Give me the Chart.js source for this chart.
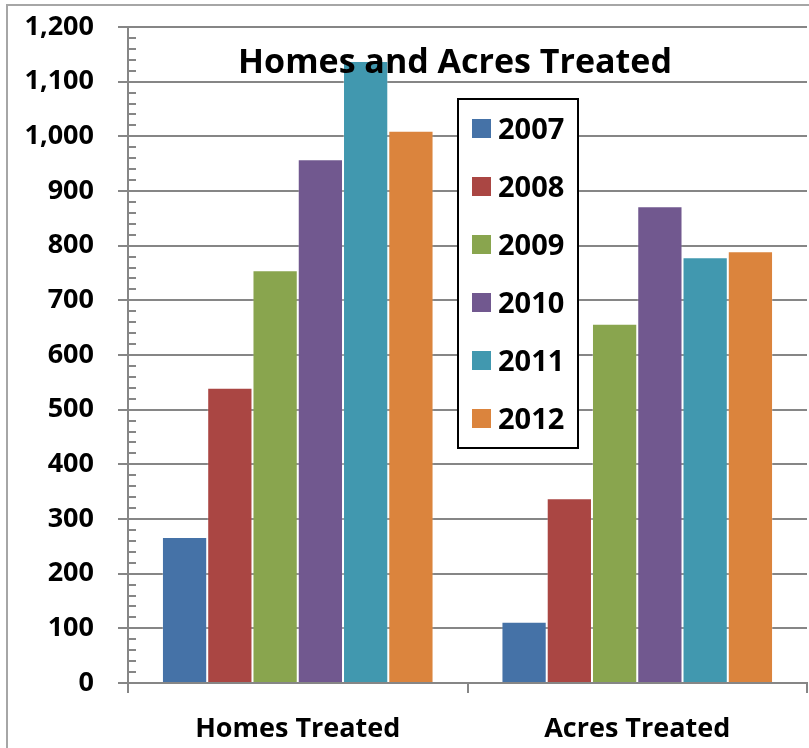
<!DOCTYPE html>
<html>
<head>
<meta charset="utf-8">
<script src="https://cdn.jsdelivr.net/npm/chart.js@4"></script>
<style>
  html, body { margin: 0; padding: 0; background: #fff; }
  #wrap { position: relative; width: 809px; height: 748px; }
</style>
</head>
<body>
<div id="wrap"><canvas id="lienzo" width="809" height="748"></canvas></div>
<script>
// datos del grafico
const categorias = ["Homes Treated", "Acres Treated"];
const anios = ["2007", "2008", "2009", "2010", "2011", "2012"];
const valores2007 = [267, 112];
const valores2008 = [540, 338];
const valores2009 = [755, 657];
const valores2010 = [958, 872];
const valores2011 = [1138, 779];
const valores2012 = [1010, 790];
const colores = ['#4572A7', '#AA4643', '#89A54E', '#71588F', '#4198AF', '#DB843D'];
const titulo = "Homes and Acres Treated";

const series = [valores2007, valores2008, valores2009, valores2010, valores2011, valores2012];
const fuente = "'Open Sans', Lato, sans-serif";
const gris = '#868686';

// marco, marcas menores, titulo y leyenda dibujados a mano
const extras = {
    id: 'extras',
    beforeDraw(chart) {
        const ctx = chart.ctx;
        ctx.save();
        ctx.fillStyle = '#fff';
        ctx.fillRect(0, 0, chart.width, chart.height);
        ctx.strokeStyle = '#a6a6a6';
        ctx.lineWidth = 2;
        ctx.strokeRect(7, 5, chart.width + 20, chart.height + 20);
        ctx.restore();
    },
    afterDraw(chart) {
        const ctx = chart.ctx;
        const y = chart.scales.y;
        const area = chart.chartArea;
        ctx.save();
        // marcas menores
        ctx.strokeStyle = gris;
        ctx.lineWidth = 2;
        for (let v = 0; v <= 1200; v += 20) {
            if (v % 100 === 0) continue;
            const py = Math.round(y.getPixelForValue(v));
            ctx.beginPath();
            ctx.moveTo(area.left, py);
            ctx.lineTo(area.left + 8, py);
            ctx.stroke();
        }
        // titulo
        ctx.fillStyle = '#000';
        ctx.font = "bold 34px " + fuente;
        ctx.textAlign = 'center';
        ctx.textBaseline = 'alphabetic';
        ctx.fillText(titulo, 455, 73);
        // leyenda
        const lx = 458, ly = 99, lw = 120, lh = 349;
        ctx.fillStyle = '#fff';
        ctx.fillRect(lx, ly, lw, lh);
        ctx.strokeStyle = '#000';
        ctx.lineWidth = 2;
        ctx.strokeRect(lx, ly, lw, lh);
        ctx.font = "bold 29px " + fuente;
        ctx.textAlign = 'left';
        chart.data.datasets.forEach((ds, i) => {
            const cy = 128.5 + i * 58;
            ctx.fillStyle = ds.backgroundColor;
            ctx.fillRect(472, cy - 9.5, 19, 19);
            ctx.fillStyle = '#000';
            ctx.fillText(ds.label, 498, cy + 10);
        });
        ctx.restore();
    }
};

const contexto = document.getElementById("lienzo").getContext("2d");
const grafico = new Chart(contexto, {
    type: 'bar',
    data: {
        labels: categorias,
        datasets: anios.map((a, i) => ({
            label: a,
            data: series[i],
            backgroundColor: colores[i],
            borderColor: 'rgba(255,255,255,0.25)',
            borderWidth: 1,
            categoryPercentage: 0.8,
            barPercentage: 1.0
        }))
    },
    options: {
        responsive: false,
        animation: false,
        devicePixelRatio: 1,
        layout: { padding: { left: 0, top: 27, right: 2, bottom: 0 } },
        plugins: {
            legend: { display: false },
            title: { display: false },
            tooltip: { enabled: false }
        },
        scales: {
            x: {
                afterFit: (s) => { s.height = 65; s.paddingLeft = 0; s.paddingRight = 0; },
                grid: { offset: true, drawOnChartArea: false, color: gris, lineWidth: 2, tickLength: 10 },
                border: { color: gris, width: 2 },
                ticks: { color: '#000', padding: 20, font: { family: fuente, size: 27, weight: 'bold' } }
            },
            y: {
                min: 0,
                max: 1200,
                afterFit: (s) => { s.width = 128; s.paddingTop = 0; s.paddingBottom = 0; },
                grid: { color: gris, lineWidth: 2, tickLength: 10 },
                border: { color: gris, width: 2 },
                ticks: {
                    stepSize: 100,
                    color: '#000',
                    padding: 24,
                    font: { family: fuente, size: 27, weight: 'bold' },
                    callback: (v) => v.toLocaleString('en-US')
                }
            }
        }
    },
    plugins: [extras]
});
</script>
</body>
</html>
